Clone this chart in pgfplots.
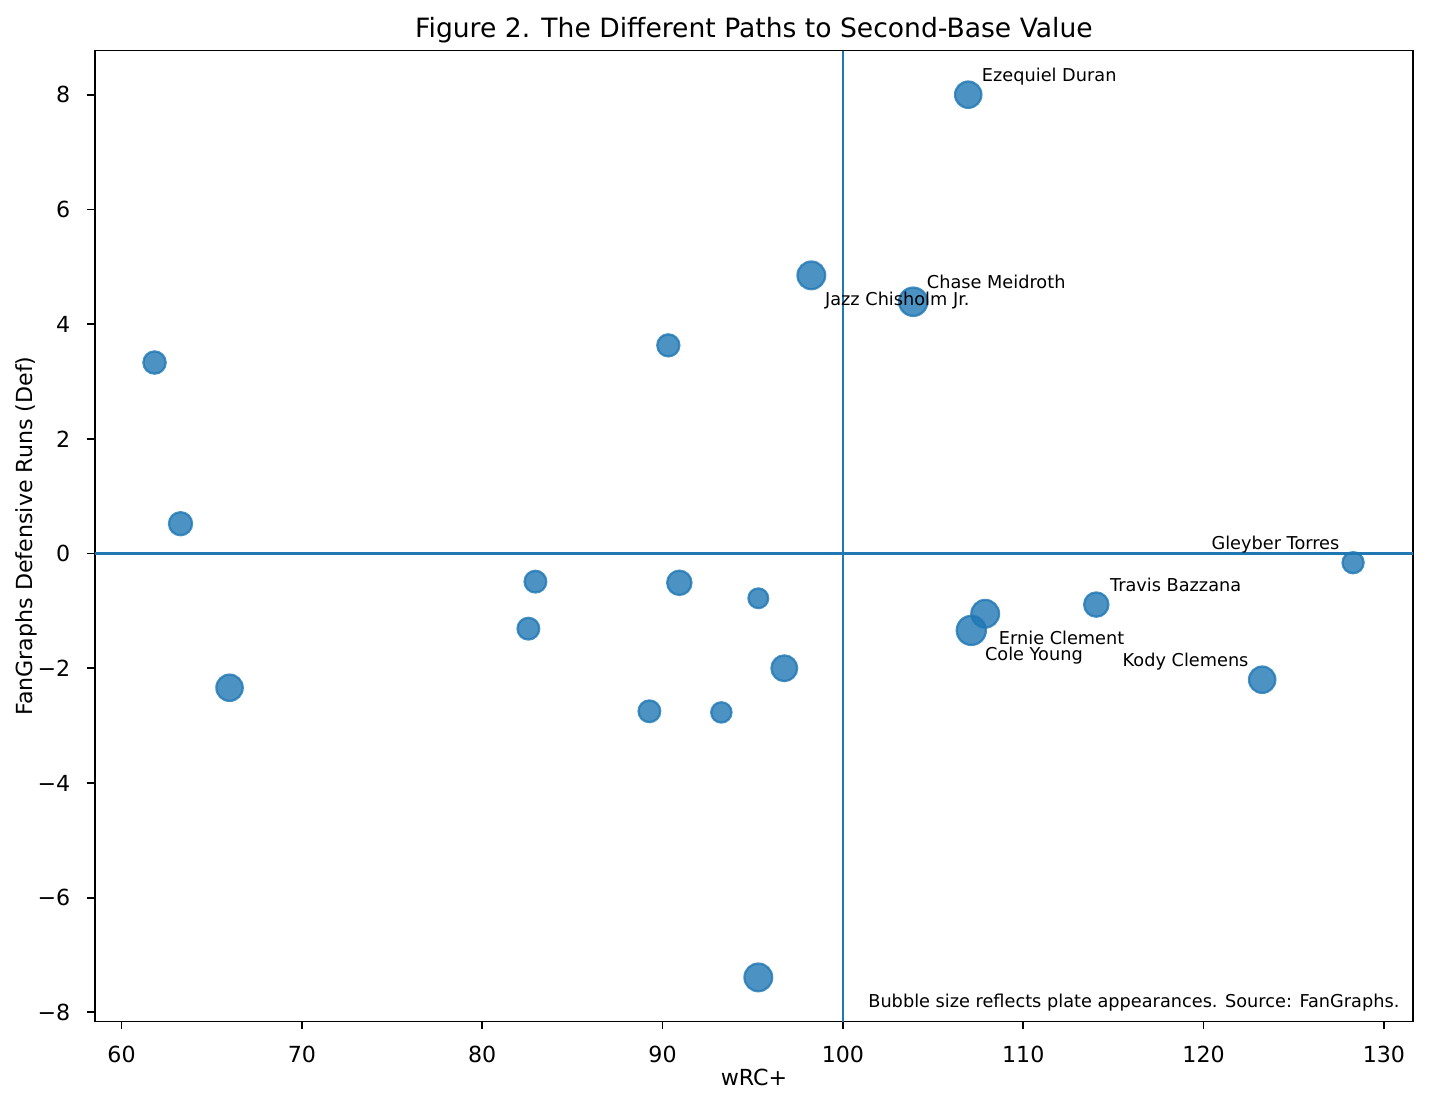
\documentclass[border=0pt]{standalone}
\usepackage{fontspec}
\setmainfont{DejaVu Sans}
\usepackage{pgfplots}
\pgfplotsset{compat=1.18}
\definecolor{mplblue}{RGB}{31,119,180}

\pgfplotstableread{
x y r
61.83 3.33 5.05
63.27 0.52 5.23
65.99 -2.34 5.96
82.95 -0.49 4.92
82.56 -1.31 4.92
90.32 3.63 5.00
90.93 -0.51 5.50
89.27 -2.75 4.92
93.26 -2.77 4.60
95.31 -0.78 4.47
96.75 -2.00 5.82
95.31 -7.39 6.27
98.25 4.85 6.27
103.90 4.39 6.41
106.95 8.00 5.96
107.89 -1.05 6.27
107.12 -1.34 6.59
114.05 -0.89 5.50
128.29 -0.16 4.78
123.25 -2.20 5.96
}\bubbles

\begin{document}
\begin{tikzpicture}
\path[use as bounding box] (0,0) rectangle (645.6pt,498.9pt);
\begin{axis}[
  at={(42.9pt,37.7pt)}, anchor=south west,
  scale only axis, width=595.0pt, height=438.4pt,
  xmin=58.53, xmax=131.61, ymin=-8.16, ymax=8.77,
  xtick={60,70,80,90,100,110,120,130},
  xticklabels={60,70,80,90,100,110,120,130},
  ytick={-8,-6,-4,-2,0,2,4,6,8},
  yticklabels={−8,−6,−4,−2,0,2,4,6,8},
  xtick pos=bottom, ytick pos=left,
  tick align=outside,
  major tick length=3.5pt,
  tick style={black, line width=0.8pt},
  axis line style={black, line width=0.8pt},
  ticklabel style={font=\fontsize{10}{12}\selectfont, inner sep=0pt},
  xticklabel style={anchor=base, yshift=-15.1pt},
  yticklabel style={anchor=east, xshift=-7.5pt},
  every axis x label/.style={at={(axis description cs:0.5,-0.0663)}, anchor=base, font=\fontsize{10}{12}\selectfont, inner sep=0pt},
  every axis y label/.style={at={(axis description cs:-0.0476,0.5)}, rotate=90, anchor=base, font=\fontsize{10}{12}\selectfont, inner sep=0pt},
  every axis title/.style={at={(axis description cs:0.5,1)}, anchor=base, yshift=6pt, font=\fontsize{12}{14.4}\selectfont, inner sep=0pt},
  xlabel={wRC+},
  ylabel={FanGraphs Defensive Runs (Def)},
  title={Figure 2. The Different Paths to Second-Base Value},
]
\addplot[scatter, only marks, mark=*,
  point meta=x,
  mark options={draw opacity=0.8, fill opacity=0.8, line width=1pt},
  visualization depends on={\thisrow{r} \as \perpointmarksize},
  scatter/use mapped color={draw=mplblue, fill=mplblue, draw opacity=0.8, fill opacity=0.8},
  scatter/@pre marker code/.append style={/tikz/mark size=\perpointmarksize},
] table[x=x, y=y] {\bubbles};

\addplot[mplblue, line width=1pt] coordinates {(100,-8.16) (100,8.77)};
\addplot[mplblue, line width=1pt] coordinates {(58.53,0) (131.61,0)};

\coordinate (ED) at (axis cs:106.95,8.00);
\coordinate (CM) at (axis cs:103.90,4.39);
\coordinate (JC) at (axis cs:98.25,4.85);
\coordinate (TB) at (axis cs:114.05,-0.89);
\coordinate (EC) at (axis cs:107.89,-1.05);
\coordinate (CY) at (axis cs:107.12,-1.34);
\coordinate (GT) at (axis cs:128.29,-0.16);
\coordinate (KC) at (axis cs:123.25,-2.20);
\coordinate (FN) at (rel axis cs:0.99,0.01);
\end{axis}
\begin{scope}[every node/.style={font=\fontsize{8}{9.6}\selectfont, inner sep=0pt}]
\node[anchor=base west, xshift=6pt, yshift=6pt] at (ED) {Ezequiel Duran};
\node[anchor=base west, xshift=6pt, yshift=6pt] at (CM) {Chase Meidroth};
\node[anchor=base west, xshift=6pt, yshift=-13.7pt] at (JC) {Jazz Chisholm Jr.};
\node[anchor=base west, xshift=6pt, yshift=6pt] at (TB) {Travis Bazzana};
\node[anchor=base west, xshift=6pt, yshift=-14pt] at (EC) {Ernie Clement};
\node[anchor=base west, xshift=6pt, yshift=-13.6pt] at (CY) {Cole Young};
\node[anchor=base east, xshift=-6pt, yshift=6pt] at (GT) {Gleyber Torres};
\node[anchor=base east, xshift=-6pt, yshift=6pt] at (KC) {Kody Clemens};
\node[anchor=south east] at (FN) {Bubble size reflects plate appearances. Source: FanGraphs.};
\end{scope}
\end{tikzpicture}
\end{document}
